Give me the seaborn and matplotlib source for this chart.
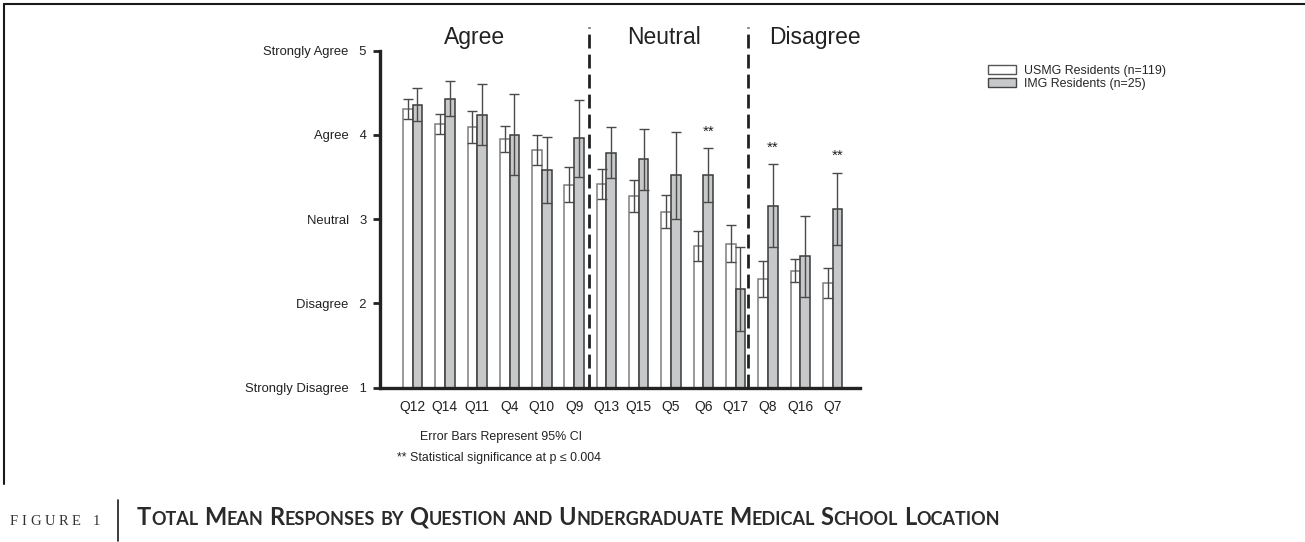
import matplotlib
matplotlib.use("Agg")
import matplotlib.pyplot as plt
import seaborn as sns
import pandas as pd
from matplotlib.lines import Line2D
from matplotlib.patches import Patch

# ---------------- data ----------------
questions = ["Q12", "Q14", "Q11", "Q4", "Q10", "Q9", "Q13", "Q15", "Q5", "Q6", "Q17", "Q8", "Q16", "Q7"]
usmg_mean = [4.31, 4.13, 4.09, 3.95, 3.82, 3.41, 3.42, 3.28, 3.09, 2.68, 2.71, 2.29, 2.39, 2.24]
usmg_ci = [0.12, 0.12, 0.19, 0.15, 0.18, 0.21, 0.18, 0.19, 0.20, 0.18, 0.22, 0.21, 0.14, 0.18]
img_mean = [4.36, 4.43, 4.24, 4.00, 3.58, 3.96, 3.79, 3.71, 3.52, 3.52, 2.17, 3.16, 2.56, 3.12]
img_ci = [0.20, 0.21, 0.36, 0.48, 0.39, 0.46, 0.30, 0.36, 0.52, 0.32, 0.50, 0.49, 0.48, 0.43]
significant = ["Q6", "Q8", "Q7"]
groups = ["USMG Residents (n=119)", "IMG Residents (n=25)"]
scale_values = [1, 2, 3, 4, 5]
scale_labels = ["Strongly Disagree", "Disagree", "Neutral", "Agree", "Strongly Agree"]
sections = ["Agree", "Neutral", "Disagree"]

df = pd.DataFrame({
    "question": questions * 2,
    "mean": usmg_mean + img_mean,
    "group": [groups[0]] * len(questions) + [groups[1]] * len(questions),
})

# ---------------- style ----------------
sns.set_theme(style="white")
plt.rcParams["font.family"] = ["Liberation Sans", "DejaVu Sans"]
DARK = "#222222"
GREY_FILL = "#c7c8ca"

fig = plt.figure(figsize=(13.05, 5.42), dpi=100)
ax = fig.add_axes([380 / 1305, 1 - 387.7 / 542, 480 / 1305, (387.7 - 23.7) / 542])

sns.barplot(data=df, x="question", y="mean", hue="group", order=questions,
            hue_order=groups, palette=["white", GREY_FILL], width=0.6,
            errorbar=None, ax=ax, legend=False, zorder=2)

edge_cols = ["#7d7d7d", "#3a3a3a"]
for cont, ec in zip(ax.containers, edge_cols):
    for bar in cont:
        bar.set_edgecolor(ec)
        bar.set_linewidth(1.1)

# error bars
for cont, means, cis in zip(ax.containers, [usmg_mean, img_mean], [usmg_ci, img_ci]):
    xs = [b.get_x() + b.get_width() / 2 for b in cont]
    ax.errorbar(xs, means, yerr=cis, fmt="none", ecolor="#4a4a4a",
                elinewidth=1.0, capsize=3.6, capthick=1.0, zorder=3)

# significance markers
img_xs = [b.get_x() + b.get_width() / 2 for b in ax.containers[1]]
for q in significant:
    i = questions.index(q)
    ax.text(img_xs[i], img_mean[i] + img_ci[i] + 0.2, "**", ha="center",
            va="center", fontsize=11, color=DARK)

# section dividers
for xd in [5.46, 10.39]:
    ax.plot([xd, xd], [1, 5.28], color=DARK, lw=2.0, ls=(0, (5, 2.2)),
            clip_on=False, zorder=4)

# section titles
for name, xc in zip(sections, [1.93, 7.78, 12.46]):
    ax.text(xc, 5.16, name, ha="center", va="center", fontsize=16.5, color=DARK)

ax.set_ylim(1, 5.32)
ax.set_xlim(-1.01, 13.85)
ax.set_yticks(scale_values)
ax.set_yticklabels([f"{l}   {v}" for l, v in zip(scale_labels, scale_values)],
                   fontsize=9.4, color=DARK)
ax.tick_params(axis="y", direction="out", length=5, width=2, color=DARK,
               pad=4.5, left=True)
ax.tick_params(axis="x", length=0, pad=9, labelsize=10, labelcolor=DARK)
ax.set_xlabel("")
ax.set_ylabel("")
for s in ["top", "right"]:
    ax.spines[s].set_visible(False)
ax.spines["left"].set_bounds(1, 5)
ax.spines["left"].set_linewidth(2.4)
ax.spines["left"].set_color(DARK)
ax.spines["bottom"].set_linewidth(2.4)
ax.spines["bottom"].set_color(DARK)
ax.spines["left"].set_zorder(5)
ax.spines["bottom"].set_zorder(5)

# legend
handles = [Patch(facecolor="white", edgecolor="#555555", linewidth=1.0),
           Patch(facecolor=GREY_FILL, edgecolor="#444444", linewidth=1.0)]
fig.legend(handles, groups, loc="upper left",
           bbox_to_anchor=(988 / 1305, 1 - 65 / 542), frameon=False,
           fontsize=8.9, handlelength=2.3, handleheight=0.7, labelspacing=0.05,
           handletextpad=0.6, borderpad=0, borderaxespad=0)

# notes
fig.text(420 / 1305, 1 - 437 / 542, "Error Bars Represent 95% CI", fontsize=8.9,
         color=DARK, va="center", ha="left")
fig.text(397 / 1305, 1 - 458 / 542, "** Statistical significance at p \u2264 0.004",
         fontsize=8.9, color=DARK, va="center", ha="left")

# frame lines
fig.add_artist(Line2D([4 / 1305, 1], [1 - 4 / 542, 1 - 4 / 542], transform=fig.transFigure,
                      color="#1a1a1a", lw=1.5))
fig.add_artist(Line2D([4 / 1305, 4 / 1305], [1 - 4 / 542, 1 - 484 / 542],
                      transform=fig.transFigure, color="#1a1a1a", lw=1.5))
fig.add_artist(Line2D([118 / 1305, 118 / 1305], [1 - 500 / 542, 1 - 541 / 542],
                      transform=fig.transFigure, color="#1a1a1a", lw=1.2))

renderer = fig.canvas.get_renderer()


def draw_runs(x_px, y_px, runs, family, weight, color):
    x = x_px
    for txt, size in runs:
        t = fig.text(x / 1305, 1 - y_px / 542, txt, fontsize=size, family=family,
                     weight=weight, color=color, ha="left", va="baseline")
        x += t.get_window_extent(renderer=renderer).width
    return x


# "FIGURE 1" letter-spaced serif
xx = 10
for ch in "FIGURE 1":
    if ch == " ":
        xx += 8
        continue
    t = fig.text(xx / 1305, 1 - 525 / 542, ch, fontsize=10.5, family=["Liberation Serif"],
                 color="#333333", ha="left", va="baseline")
    xx += t.get_window_extent(renderer=renderer).width + 3.6

# small-caps title
title = "Total Mean Responses by Question and Undergraduate Medical School Location"
runs = []
BIG, SMALL = 17.0, 13.0
for wi, word in enumerate(title.split(" ")):
    if wi > 0:
        runs.append((" ", BIG))
    if word[0].isupper():
        runs.append((word[0], BIG))
        runs.append((word[1:].upper(), SMALL))
    else:
        runs.append((word.upper(), SMALL))
draw_runs(137, 525, runs, ["Lato", "DejaVu Sans"], "bold", "#2a2a2a")

fig.savefig("out.png", dpi=100, facecolor="white")
